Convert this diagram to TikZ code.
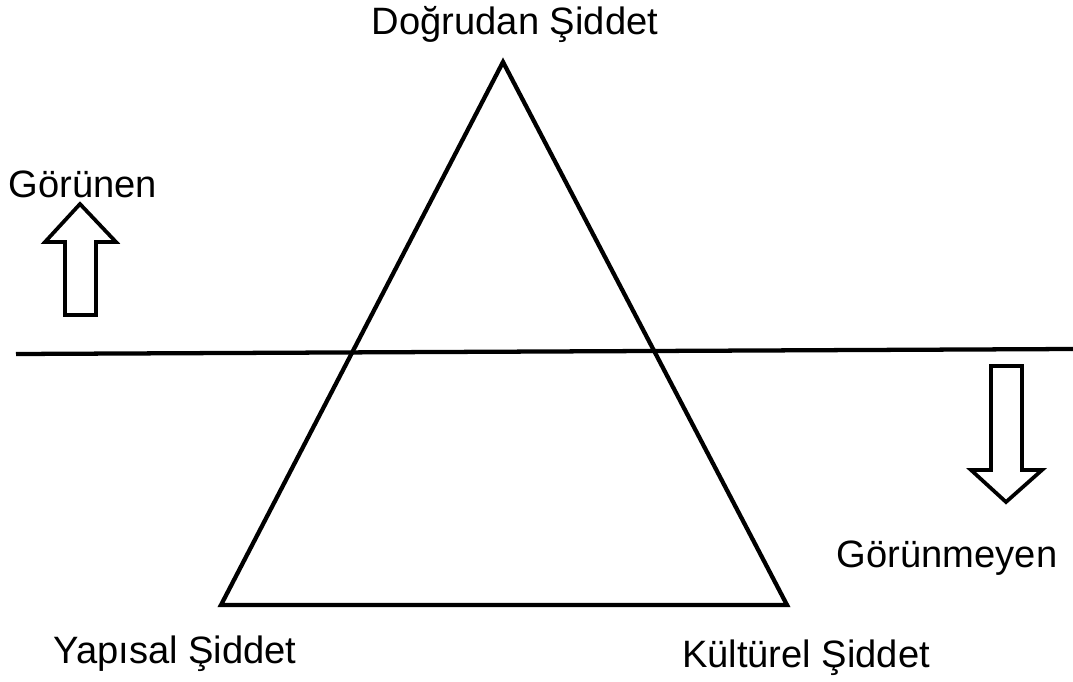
\documentclass[tikz,border=0pt]{standalone}
\usepackage{fontspec}
\setmainfont{Liberation Sans}
\usepackage{tikz}
\usetikzlibrary{positioning}
\tikzset{
  edge/.style  ={line width=3.2pt,line join=miter},
  blkarrow/.style={line width=2.8pt,fill=white,line join=miter},
  lbl/.style   ={font=\fontsize{28.6}{30}\selectfont,inner sep=0pt,anchor=base},
}

\begin{document}
\begin{tikzpicture}[x=0.75pt,y=-0.75pt]
  \useasboundingbox (0,0) rectangle (1073,681);
  % triangle corners
  \coordinate (top) at (503,62);
  \coordinate (bl)  at (221,605);
  \coordinate (br)  at (787,605);
  \draw[edge] (top) -- (bl) -- (br) -- cycle;
  % visibility line
  \coordinate (hl) at (16,354);
  \coordinate (hr) at (1073,349);
  \draw[edge] (hl) -- (hr);
  % block arrows
  \draw[blkarrow] (80,204) -- (116,242) -- (96,242) -- (96,315) -- (65,315)
       -- (65,242) -- (45,242) -- cycle;
  \draw[blkarrow] (1006,502) -- (1042,470) -- (1022,470) -- (1022,366) -- (991,366)
       -- (991,470) -- (971,470) -- cycle;
  % labels
  \node[lbl] (dogrudan) at (515,35)  {Doğrudan Şiddet};
  \node[lbl] (gorunen)  at (83,197)  {Görünen};
  \node[lbl] (gorunmez) at (947,567) {Görünmeyen};
  \node[lbl] (yapisal)  at (175,663) {Yapısal Şiddet};
  \node[lbl] (kulturel) at (806,667) {Kültürel Şiddet};
\end{tikzpicture}
\end{document}
